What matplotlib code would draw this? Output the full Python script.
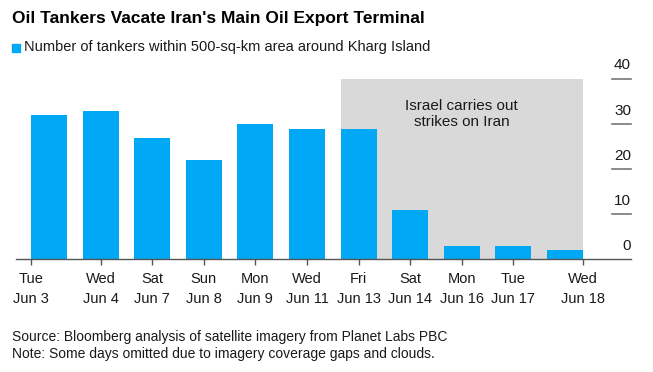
import matplotlib.pyplot as plt
import matplotlib.transforms as mtransforms

days = ["Tue", "Wed", "Sat", "Sun", "Mon", "Wed", "Fri", "Sat", "Mon", "Tue", "Wed"]
dates = ["Jun 3", "Jun 4", "Jun 7", "Jun 8", "Jun 9", "Jun 11", "Jun 13",
         "Jun 14", "Jun 16", "Jun 17", "Jun 18"]
tankers = [32, 33, 27, 22, 30, 29, 29, 11, 3, 3, 2]
y_ticks = [0, 10, 20, 30, 40]
strike_start = 6  # Jun 13
note = "Israel carries out\nstrikes on Iran"

BLUE = "#00a8f5"
GRAY = "#d9d9d9"


def main():
    plt.rcParams['font.family'] = ["Liberation Sans", "DejaVu Sans"]
    fig = plt.figure(figsize=(6.53, 3.72), dpi=100)
    ax = fig.add_axes([16 / 653, 1 - 259.3 / 372, 615 / 653, 180.3 / 372])

    n = len(tankers)
    x = list(range(n))
    w = 0.7

    # shaded period after strikes
    ax.axvspan(strike_start - w / 2, n - 1 + w / 2, ymin=0, ymax=1,
               color=GRAY, lw=0, zorder=0)
    ax.text((strike_start + n - 1) / 2, 32.2, note, ha='center', va='center',
            fontsize=11, color='#1a1a1a', linespacing=1.2)

    ax.bar(x, tankers, width=w, color=BLUE, zorder=2)

    ax.set_xlim(-0.64, 11.28)
    ax.set_ylim(0, 40)

    for s in ['top', 'right', 'left']:
        ax.spines[s].set_visible(False)
    ax.spines['bottom'].set_color('#555555')
    ax.spines['bottom'].set_linewidth(1)
    ax.spines['bottom'].set_zorder(3)

    # ticks: first at left edge, last at right edge of bar
    tick_pos = list(x)
    tick_pos[0] = -w / 2
    tick_pos[-1] = n - 1 + w / 2
    ax.set_xticks(tick_pos)
    ax.set_xticklabels([d + "\n" + t for d, t in zip(days, dates)],
                       fontsize=10.5, color='#1a1a1a', linespacing=1.6)
    ax.tick_params(axis='x', length=4, width=1, color='#555555', pad=5)
    ax.set_yticks([])

    # right side y labels with short markers
    trans = mtransforms.blended_transform_factory(ax.transAxes, ax.transData)
    for v in y_ticks:
        if v > 0:
            ax.plot([0.969, 1.0], [v, v], transform=trans, color='#777777',
                    lw=1.2, clip_on=False)
        ax.text(1.0, v + 3.0, str(v), transform=trans, ha='right', va='center',
                fontsize=11, color='#1a1a1a')

    fig.text(12 / 653, 1 - 18 / 372, "Oil Tankers Vacate Iran's Main Oil Export Terminal",
             fontsize=12.5, fontweight='bold', va='center', ha='left')
    fig.patches.append(plt.Rectangle((12 / 653, 1 - 51.5 / 372), 8 / 653, 8 / 372,
                                     transform=fig.transFigure, color=BLUE, figure=fig))
    fig.text(24 / 653, 1 - 47.5 / 372,
             "Number of tankers within 500-sq-km area around Kharg Island",
             fontsize=10.5, va='center', ha='left', color='#1a1a1a')

    fig.text(12 / 653, 1 - 337 / 372,
             "Source: Bloomberg analysis of satellite imagery from Planet Labs PBC",
             fontsize=10, va='center', ha='left', color='#1a1a1a')
    fig.text(12 / 653, 1 - 354 / 372,
             "Note: Some days omitted due to imagery coverage gaps and clouds.",
             fontsize=10, va='center', ha='left', color='#1a1a1a')

    fig.savefig("out.png", dpi=100)


if __name__ == "__main__":
    main()
